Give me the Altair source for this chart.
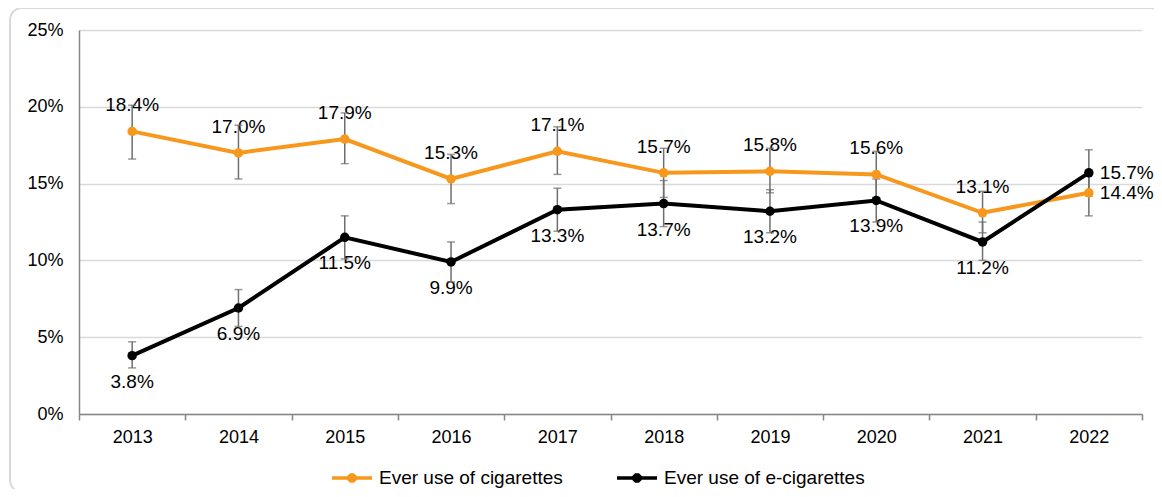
import altair as alt
import pandas as pd

years = [2013, 2014, 2015, 2016, 2017, 2018, 2019, 2020, 2021, 2022]
series_names = ["Ever use of cigarettes", "Ever use of e-cigarettes"]

cig = [18.4, 17.0, 17.9, 15.3, 17.1, 15.7, 15.8, 15.6, 13.1, 14.4]
cig_lo = [16.6, 15.3, 16.3, 13.7, 15.6, 14.1, 14.4, 14.1, 11.8, 12.9]
cig_hi = [20.1, 18.8, 19.6, 16.9, 18.7, 17.3, 17.3, 17.1, 14.5, 15.9]

ecig = [3.8, 6.9, 11.5, 9.9, 13.3, 13.7, 13.2, 13.9, 11.2, 15.7]
ecig_lo = [3.0, 5.7, 10.1, 8.6, 11.9, 12.2, 11.8, 12.5, 10.0, 14.2]
ecig_hi = [4.7, 8.1, 12.9, 11.2, 14.7, 15.2, 14.6, 15.3, 12.5, 17.2]

# label placement per point
cig_pos = ["above"] * 9 + ["right"]
ecig_pos = ["below"] * 9 + ["right"]

y_ticks = [0, 5, 10, 15, 20, 25]

ORANGE = "#F7981D"
BLACK = "#000000"
GRAY = "#6e6e6e"
FONT = "Liberation Sans"
FS = 19

rows = []
for name, vals, lo, hi, pos in [
    (series_names[0], cig, cig_lo, cig_hi, cig_pos),
    (series_names[1], ecig, ecig_lo, ecig_hi, ecig_pos),
]:
    for yr, v, l, h, p in zip(years, vals, lo, hi, pos):
        rows.append({"year": str(yr), "series": name, "value": v, "lo": l, "hi": h, "pos": p})
df = pd.DataFrame(rows)

x_enc = alt.X(
    "year:O",
    title=None,
    scale=alt.Scale(paddingInner=0, paddingOuter=0),
    axis=alt.Axis(
        labelAngle=0,
        tickBand="extent",
        ticks=True,
        tickSize=6,
        tickColor="#868686",
        tickWidth=1.5,
        domainColor="#868686",
        domainWidth=1.5,
        grid=False,
        labelFontSize=FS - 1,
        labelFont=FONT,
        labelColor="#000000",
        labelPadding=8,
    ),
)
y_scale = alt.Scale(domain=[0, 25], nice=False)
y_enc = alt.Y(
    "value:Q",
    title=None,
    scale=y_scale,
    axis=alt.Axis(
        values=y_ticks,
        labelExpr="datum.value + '%'",
        ticks=False,
        grid=True,
        gridColor="#d9d9d9",
        gridWidth=1.5,
        domainColor="#868686",
        domainWidth=1.5,
        labelFontSize=FS - 1,
        labelFont=FONT,
        labelColor="#000000",
        labelPadding=16,
    ),
)
color_scale = alt.Scale(domain=series_names, range=[ORANGE, BLACK])

base = alt.Chart(df)

# decorative rounded frame around the whole figure (one row from an aggregate)
frame = base.transform_aggregate(n="count()").mark_rect(
    fill="#ffffff", fillOpacity=0, stroke="#d9d9d9", strokeWidth=2, cornerRadius=12
).encode(
    x=alt.value(-69), x2=alt.value(1084), y=alt.value(-22), y2=alt.value(462)
)

err_rule = base.mark_rule(color=GRAY, strokeWidth=1.5).encode(
    x=x_enc, y=alt.Y("lo:Q", scale=y_scale), y2="hi:Q"
)
err_cap_lo = base.mark_tick(color=GRAY, thickness=1.5, size=8).encode(
    x=x_enc, y=alt.Y("lo:Q", scale=y_scale)
)
err_cap_hi = base.mark_tick(color=GRAY, thickness=1.5, size=8).encode(
    x=x_enc, y=alt.Y("hi:Q", scale=y_scale)
)

legend = alt.Legend(
    orient="none",
    legendX=261,
    legendY=436,
    direction="horizontal",
    title=None,
    symbolType=(
        "M-2,0L2,0"
        "M-0.3,-0.12L-0.12,-0.3L0.12,-0.3L0.3,-0.12L0.3,0.12L0.12,0.3L-0.12,0.3L-0.3,0.12Z"
        "M-0.1,-0.1L0.1,-0.1L0.1,0.1L-0.1,0.1Z"
    ),
    symbolSize=400,
    symbolStrokeWidth=3.5,
    labelFontSize=FS,
    labelFont=FONT,
    labelColor="#000000",
    labelLimit=400,
    labelOffset=15,
    columnPadding=47,
)

lines = base.mark_line(strokeWidth=4).encode(
    x=x_enc,
    y=y_enc,
    color=alt.Color("series:N", scale=color_scale, legend=legend),
)
points = base.mark_point(filled=True, size=90, opacity=1).encode(
    x=x_enc,
    y=alt.Y("value:Q", scale=y_scale),
    color=alt.Color("series:N", scale=color_scale, legend=None),
)

label_base = base.transform_calculate(
    label="format(datum.value, '.1f') + '%'"
)
text_kw = dict(fontSize=FS, font=FONT, color="#000000", baseline="middle")
txt_above = label_base.transform_filter("datum.pos == 'above'").mark_text(
    align="center", dy=-26, **text_kw
).encode(x=x_enc, y=alt.Y("value:Q", scale=y_scale), text="label:N")
txt_below = label_base.transform_filter("datum.pos == 'below'").mark_text(
    align="center", dy=26, **text_kw
).encode(x=x_enc, y=alt.Y("value:Q", scale=y_scale), text="label:N")
txt_right = label_base.transform_filter("datum.pos == 'right'").mark_text(
    align="left", dx=11, **text_kw
).encode(x=x_enc, y=alt.Y("value:Q", scale=y_scale), text="label:N")

chart = alt.layer(
    frame, txt_above, txt_below, txt_right, err_rule, err_cap_lo, err_cap_hi, lines, points
).properties(
    width=1063,
    height=384,
    autosize=alt.AutoSizeParams(type="none"),
    padding={"left": 71, "top": 22, "right": 12, "bottom": 75},
).configure_view(strokeWidth=0)

chart.save("out.html", embed_options={"renderer": "svg", "actions": False})
